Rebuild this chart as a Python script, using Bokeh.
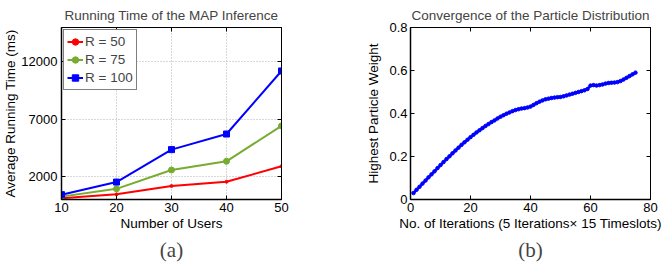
from bokeh.plotting import figure
from bokeh.layouts import row
from bokeh.models import FixedTicker, Range1d, LinearAxis, Title, Legend, LegendItem
from bokeh.embed import file_html
from bokeh.resources import INLINE

# ---- data (a) ----
users = [10, 20, 30, 40, 50]
r50 = [100, 450, 1180, 1550, 2900]
r75 = [250, 930, 2570, 3330, 6420]
r100 = [420, 1520, 4350, 5710, 11210]
a_yticks = [2000, 7000, 12000]
a_xticks = [10, 20, 30, 40, 50]

# ---- data (b) ----
iterations = list(range(1, 76))
weights = [0.030, 0.045, 0.059, 0.074, 0.088, 0.103, 0.117, 0.131, 0.146, 0.160,
           0.174, 0.188, 0.201, 0.215, 0.228, 0.241, 0.254, 0.266, 0.278, 0.290,
           0.301, 0.312, 0.322, 0.332, 0.342, 0.351, 0.360, 0.368, 0.377, 0.385,
           0.392, 0.399, 0.405, 0.411, 0.416, 0.420, 0.423, 0.425, 0.428, 0.432,
           0.440, 0.448, 0.455, 0.461, 0.466, 0.469, 0.472, 0.474, 0.476, 0.477,
           0.480, 0.484, 0.488, 0.492, 0.496, 0.500, 0.504, 0.508, 0.514, 0.530,
           0.532, 0.530, 0.532, 0.535, 0.539, 0.542, 0.543, 0.544, 0.546, 0.551,
           0.558, 0.566, 0.574, 0.582, 0.590]
b_xticks = [0, 20, 40, 60, 80]
b_yticks = [0, 0.2, 0.4, 0.6, 0.8]

FONT = "Liberation Sans"
TICK_FS = "13px"
LAB_FS = "13.5px"
HEIGHT = 266


def style_axis(ax, main=True):
    ax.major_tick_in = 4
    ax.major_tick_out = 0
    ax.minor_tick_in = 0
    ax.minor_tick_out = 0
    ax.axis_line_color = "black"
    ax.major_tick_line_color = "black"
    ax.major_label_text_font = FONT
    ax.major_label_text_font_size = TICK_FS
    ax.major_label_text_color = "black"
    ax.axis_label_text_font = FONT
    ax.axis_label_text_font_size = LAB_FS
    ax.axis_label_text_font_style = "normal"
    ax.axis_label_text_color = "black"
    ax.axis_label_standoff = 1
    ax.major_label_standoff = 3
    if main:
        ax.axis_line_width = 1.5
    else:
        ax.axis_line_width = 1
        ax.major_label_text_font_size = "0px"
        ax.major_label_text_color = None
        ax.major_label_standoff = 0


def make_fig(width, border_left, border_right, title, xr, yr):
    p = figure(width=width, height=HEIGHT, output_backend="svg", toolbar_location=None,
               x_range=xr, y_range=yr, min_border_left=border_left,
               min_border_right=border_right, min_border_top=24,
               min_border_bottom=HEIGHT - 24 - 175)
    p.title.text = title
    p.title.text_font = FONT
    p.title.text_font_size = LAB_FS
    p.title.text_font_style = "normal"
    p.title.align = "center"
    p.title.standoff = 10
    p.title.offset = 0
    p.outline_line_color = "black"
    p.outline_line_width = 1
    p.background_fill_color = "white"
    p.border_fill_color = "white"
    return p


# ---------- (a) ----------
pa = make_fig(330, 61, 49, "Running Time of the MAP Inference", Range1d(10, 50), Range1d(0, 15000))
pa.xaxis.ticker = FixedTicker(ticks=a_xticks)
pa.yaxis.ticker = FixedTicker(ticks=a_yticks)
pa.xaxis.axis_label = "Number of Users"
pa.yaxis.axis_label = "Average Running Time (ms)"
style_axis(pa.xaxis[0])
style_axis(pa.yaxis[0])
pa.yaxis.major_label_standoff = 4
pa.yaxis.axis_label_standoff = 0
for loc, ticks in (("right", a_yticks), ("above", a_xticks)):
    ax = LinearAxis(ticker=FixedTicker(ticks=ticks))
    style_axis(ax, main=False)
    pa.add_layout(ax, loc)
pa.xgrid.ticker = FixedTicker(ticks=a_xticks)
pa.ygrid.ticker = FixedTicker(ticks=a_yticks)
for g in (pa.xgrid[0], pa.ygrid[0]):
    g.grid_line_color = "#b0b0b0"
    g.grid_line_dash = "1 2"
    g.grid_line_width = 1

l1 = pa.line(users, r50, line_color="#ff0000", line_width=2)
m1 = pa.scatter(users, r50, marker="circle", size=3, color="#ff0000")
l2 = pa.line(users, r75, line_color="#77ac30", line_width=2)
m2 = pa.scatter(users, r75, marker="circle", size=6, color="#77ac30")
l3 = pa.line(users, r100, line_color="#0000ff", line_width=2)
m3 = pa.scatter(users, r100, marker="square", size=6, color="#0000ff")
leg = Legend(items=[LegendItem(label="R = 50", renderers=[l1, m1]),
                    LegendItem(label="R = 75", renderers=[l2, m2]),
                    LegendItem(label="R = 100", renderers=[l3, m3])],
             location="top_left")
leg.margin = 2
leg.padding = 3
leg.spacing = 1
leg.glyph_width = 16
leg.glyph_height = 17
leg.label_height = 17
leg.label_standoff = 2
leg.label_text_font = FONT
leg.label_text_font_size = LAB_FS
leg.border_line_color = "black"
leg.border_line_width = 1
leg.background_fill_alpha = 1
pa.add_layout(leg, "center")
cap_a = Title(text="(a)", align="center", offset=-16, text_font="Liberation Serif",
              text_font_size="21px", text_font_style="normal", standoff=4)
pa.add_layout(cap_a, "below")

# ---------- (b) ----------
pb = make_fig(333, 80, 13, "Convergence of the Particle Distribution", Range1d(0, 80), Range1d(0, 0.8))
pb.xaxis.ticker = FixedTicker(ticks=b_xticks)
pb.yaxis.ticker = FixedTicker(ticks=b_yticks)
pb.yaxis.major_label_overrides = {0: "0", 0.2: "0.2", 0.4: "0.4", 0.6: "0.6", 0.8: "0.8"}
pb.xaxis.axis_label = "No. of Iterations (5 Iterations\u00d7 15 Timeslots)"
pb.yaxis.axis_label = "Highest Particle Weight"
style_axis(pb.xaxis[0])
style_axis(pb.yaxis[0])
pb.yaxis.axis_label_standoff = 5
for loc, ticks in (("right", b_yticks), ("above", b_xticks)):
    ax = LinearAxis(ticker=FixedTicker(ticks=ticks))
    style_axis(ax, main=False)
    pb.add_layout(ax, loc)
pb.xgrid.visible = False
pb.ygrid.visible = False
pb.line(iterations, weights, line_color="#0000ff", line_width=2.5)
pb.scatter(iterations, weights, marker="circle", size=3.5, color="#0000ff")
cap_b = Title(text="(b)", align="center", offset=-3, text_font="Liberation Serif",
              text_font_size="21px", text_font_style="normal", standoff=4)
pb.add_layout(cap_b, "below")

layout = row(pa, pb, spacing=0)
open("out.html", "w").write(file_html(layout, INLINE))
